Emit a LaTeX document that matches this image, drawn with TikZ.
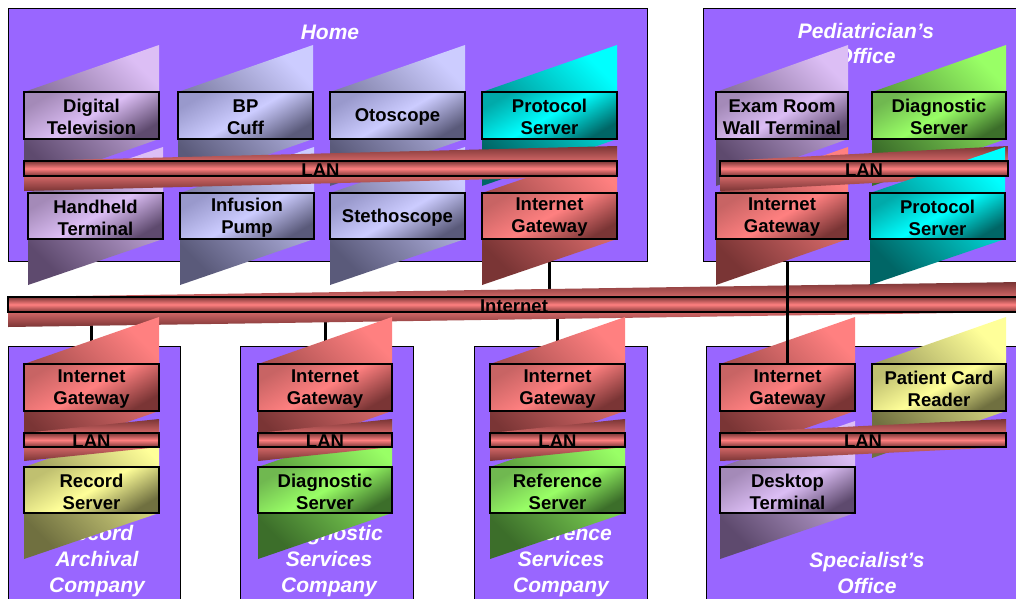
\documentclass[tikz,border=0pt]{standalone}
\usepackage{fontspec}
\setmainfont{Liberation Sans}
\pgfdeclarelayer{behind}
\pgfsetlayers{behind,main}

\definecolor{zone}{HTML}{9966FF}
\definecolor{redL}{HTML}{FF8080}
\definecolor{redM}{HTML}{C86464}
\definecolor{redD}{HTML}{7A3535}
\definecolor{purL}{HTML}{DCBEF5}
\definecolor{purM}{HTML}{A48AB8}
\definecolor{purD}{HTML}{5E4A6E}
\definecolor{bluL}{HTML}{CCCCFF}
\definecolor{bluM}{HTML}{9999CC}
\definecolor{bluD}{HTML}{5A5A7A}
\definecolor{cyaL}{HTML}{00FFFF}
\definecolor{cyaM}{HTML}{00AAAA}
\definecolor{cyaD}{HTML}{006666}
\definecolor{grnL}{HTML}{99FF66}
\definecolor{grnM}{HTML}{70B850}
\definecolor{grnD}{HTML}{3C6E2A}
\definecolor{yelL}{HTML}{FFFF99}
\definecolor{yelM}{HTML}{C0C070}
\definecolor{yelD}{HTML}{707040}

\tikzset{
  zonebox/.style={draw=black, line width=1.2pt, fill=zone, inner sep=0pt, anchor=north west},
  zonetitle/.style={text=white, anchor=north, inner sep=0pt, align=center,
    font=\fontsize{21}{26}\selectfont\bfseries\itshape},
  devbox/.style={draw=black, line width=1.5pt, inner sep=0pt},
  devtext/.style={inner sep=0pt, align=center, yshift=-1.5pt,
    font=\fontsize{18.5}{22}\selectfont\bfseries},
  boxfill/.style={top color=#1M, bottom color=#1D, middle color=#1L, shading angle=30},
  parafill/.style={top color=#1L, bottom color=#1D, shading angle=-45},
  barfill/.style={top color=#1D, bottom color=#1D, middle color=#1L},
  link/.style={draw=black, line width=3pt},
}

% sheared slab behind a box: x1 y1 x2 y2 fill
\newcommand\slab[5]{%
  \pgfmathsetmacro\slabh{#4-#2}%
  \shade[#5] (#1,#2) -- (#3,#2-\slabh) -- (#3,#4) -- (#1,#4+\slabh) -- cycle;%
}
% labelled box: name x1 y1 x2 y2 fill text
\newcommand\devnode[7]{%
  \node[devbox, #6, minimum width={(#4-#2)*1pt}, minimum height={(#5-#3)*1pt},
    label={[devtext]center:#7}]
    (#1) at ({(#2+#4)/2},{(#3+#5)/2}) {};%
}

\begin{document}
\begin{tikzpicture}[x=1pt,y=-1pt]
\useasboundingbox (0,0) rectangle (1016,598);
\clip (0,0) rectangle (1016,598);

% sites
\node[zonebox, minimum width=639pt, minimum height=253pt] (home) at (8,8) {};
\node[zonebox, minimum width=340pt, minimum height=253pt] (ped) at (703,8) {};
\node[zonebox, minimum width=172pt, minimum height=270pt] (rac) at (8,346) {};
\node[zonebox, minimum width=173pt, minimum height=270pt] (dsc) at (240,346) {};
\node[zonebox, minimum width=173pt, minimum height=270pt] (rsc) at (474,346) {};
\node[zonebox, minimum width=340pt, minimum height=270pt] (spo) at (706,346) {};

\node[zonetitle] (homet) at (330,25) {Home};
\node[zonetitle, font=\fontsize{21}{25}\selectfont\bfseries\itshape] (pedt) at (866,23) {Pediatrician’s\\Office};
\node[zonetitle] (ract) at (97,525) {Record\\Archival\\Company};
\node[zonetitle] (dsct) at (329,525) {Diagnostic\\Services\\Company};
\node[zonetitle] (rsct) at (561,525) {Reference\\Services\\Company};
\node[zonetitle] (spot) at (867,552) {Specialist’s\\Office};

% backbone
\slab{8}{297}{1020}{312}{barfill=red}
\devnode{inet}{8}{297}{1020}{312}{barfill=red}{Internet}

% Record Archival Company
\slab{24}{364}{159}{411}{parafill=red}
\slab{24}{467}{159}{513}{parafill=yel}
\slab{24}{433}{159}{447}{barfill=red}
\devnode{rgw}{24}{364}{159}{411}{boxfill=red}{Internet\\Gateway}
\devnode{rlan}{24}{433}{159}{447}{barfill=red}{LAN}
\devnode{rrs}{24}{467}{159}{513}{boxfill=yel}{Record\\Server}

% Diagnostic Services Company
\slab{258}{364}{392}{411}{parafill=red}
\slab{258}{467}{392}{513}{parafill=grn}
\slab{258}{433}{392}{447}{barfill=red}
\devnode{dgw}{258}{364}{392}{411}{boxfill=red}{Internet\\Gateway}
\devnode{dlan}{258}{433}{392}{447}{barfill=red}{LAN}
\devnode{dds}{258}{467}{392}{513}{boxfill=grn}{Diagnostic\\Server}

% Reference Services Company
\slab{490}{364}{625}{411}{parafill=red}
\slab{490}{467}{625}{513}{parafill=grn}
\slab{490}{433}{625}{447}{barfill=red}
\devnode{fgw}{490}{364}{625}{411}{boxfill=red}{Internet\\Gateway}
\devnode{flan}{490}{433}{625}{447}{barfill=red}{LAN}
\devnode{frs}{490}{467}{625}{513}{boxfill=grn}{Reference\\Server}

% Specialist's Office
\slab{720}{364}{855}{411}{parafill=red}
\slab{872}{364}{1006}{411}{parafill=yel}
\slab{720}{467}{855}{513}{parafill=pur}
\slab{720}{433}{1006}{447}{barfill=red}
\devnode{sgw}{720}{364}{855}{411}{boxfill=red}{Internet\\Gateway}
\devnode{spc}{872}{364}{1006}{411}{boxfill=yel}{Patient Card\\Reader}
\devnode{slan}{720}{433}{1006}{447}{barfill=red}{LAN}
\devnode{sdt}{720}{467}{855}{513}{boxfill=pur}{Desktop\\Terminal}

% office-to-office link across the backbone
\draw[link] (sgw.north |- ped.south) -- (sgw.north);

% Home
\slab{24}{92}{159}{139}{parafill=pur}
\slab{178}{92}{313}{139}{parafill=blu}
\slab{330}{92}{465}{139}{parafill=blu}
\slab{482}{92}{617}{139}{parafill=cya}
\slab{28}{193}{163}{239}{parafill=pur}
\slab{180}{193}{314}{239}{parafill=blu}
\slab{330}{193}{465}{239}{parafill=blu}
\slab{482}{193}{617}{239}{parafill=red}
\slab{24}{161}{617}{176}{barfill=red}
\devnode{dtv}{24}{92}{159}{139}{boxfill=pur}{Digital\\Television}
\devnode{bp}{178}{92}{313}{139}{boxfill=blu}{BP\\Cuff}
\devnode{oto}{330}{92}{465}{139}{boxfill=blu}{Otoscope}
\devnode{hps}{482}{92}{617}{139}{boxfill=cya}{Protocol\\Server}
\devnode{hlan}{24}{161}{617}{176}{barfill=red}{LAN}
\devnode{hht}{28}{193}{163}{239}{boxfill=pur}{Handheld\\Terminal}
\devnode{ip}{180}{193}{314}{239}{boxfill=blu}{Infusion\\Pump}
\devnode{ste}{330}{193}{465}{239}{boxfill=blu}{Stethoscope}
\devnode{hgw}{482}{193}{617}{239}{boxfill=red}{Internet\\Gateway}

% Pediatrician's Office
\slab{716}{92}{848}{139}{parafill=pur}
\slab{872}{92}{1006}{139}{parafill=grn}
\slab{716}{193}{848}{239}{parafill=red}
\slab{720}{161}{1008}{176}{barfill=red}
\slab{870}{193}{1005}{239}{parafill=cya}
\devnode{erw}{716}{92}{848}{139}{boxfill=pur}{Exam Room\\Wall Terminal}
\devnode{pds}{872}{92}{1006}{139}{boxfill=grn}{Diagnostic\\Server}
\devnode{plan}{720}{161}{1008}{176}{barfill=red}{LAN}
\devnode{pgw}{716}{193}{848}{239}{boxfill=red}{Internet\\Gateway}
\devnode{pps}{870}{193}{1005}{239}{boxfill=cya}{Protocol\\Server}

% gateway uplinks, behind the sites
\begin{pgfonlayer}{behind}
  \draw[link] (hgw.south) -- (hgw.south |- inet.north);
  \draw[link] (rgw.north) -- (rgw.north |- inet.south);
  \draw[link] (dgw.north) -- (dgw.north |- inet.south);
  \draw[link] (fgw.north) -- (fgw.north |- inet.south);
\end{pgfonlayer}
\end{tikzpicture}
\end{document}
